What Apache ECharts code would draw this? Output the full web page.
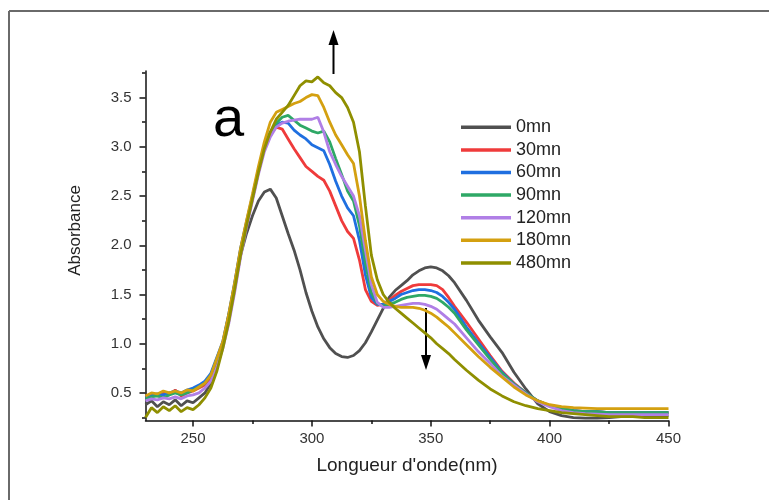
<!DOCTYPE html>
<html><head><meta charset="utf-8">
<script src="https://cdn.jsdelivr.net/npm/echarts@6/dist/echarts.min.js"></script>
<style>html,body{margin:0;padding:0;background:#fff;}#c{width:769px;height:500px;}</style>
</head><body><div id="c"></div>
<script>
const wavelengths = [230,232.5,235,237.5,240,242.5,245,247.5,250,252.5,
255,257.5,260,262.5,265,267.5,270,272.5,275,277.5,
280,282.5,285,287.5,290,292.5,295,297.5,300,302.5,
305,307.5,310,312.5,315,317.5,320,322.5,325,327.5,
330,332.5,335,337.5,340,342.5,345,347.5,350,352.5,
355,357.5,360,365,370,375,380,385,390,395,
400,405,410,415,420,425,430,435,440,445,450];
const seriesNames = ['0mn','30mn','60mn','90mn','120mn','180mn','480mn'];
const abs0 = [0.38,0.42,0.36,0.41,0.38,0.43,0.37,0.42,0.40,0.45,
0.50,0.60,0.80,1.00,1.28,1.58,1.90,2.12,2.30,2.45,
2.54,2.57,2.48,2.30,2.12,1.95,1.75,1.52,1.33,1.17,
1.05,0.96,0.90,0.87,0.86,0.88,0.93,1.01,1.12,1.24,
1.36,1.47,1.54,1.59,1.64,1.70,1.74,1.77,1.78,1.77,
1.74,1.69,1.62,1.44,1.24,1.07,0.91,0.71,0.54,0.39,
0.31,0.27,0.25,0.245,0.245,0.25,0.26,0.27,0.27,0.27,0.27];
const abs30 = [0.46,0.48,0.47,0.50,0.48,0.53,0.47,0.50,0.52,0.55,
0.58,0.66,0.84,1.00,1.28,1.60,1.95,2.22,2.48,2.75,
2.98,3.13,3.20,3.18,3.08,2.98,2.89,2.80,2.75,2.70,
2.66,2.55,2.40,2.25,2.14,2.07,1.85,1.55,1.43,1.39,
1.40,1.44,1.49,1.53,1.56,1.59,1.60,1.60,1.60,1.59,
1.55,1.47,1.38,1.22,1.05,0.88,0.72,0.60,0.50,0.42,
0.37,0.34,0.32,0.31,0.31,0.30,0.30,0.30,0.30,0.30,0.30];
const abs60 = [0.45,0.47,0.49,0.48,0.50,0.52,0.50,0.53,0.55,0.58,
0.62,0.70,0.86,1.02,1.30,1.62,1.97,2.24,2.50,2.77,
3.00,3.15,3.22,3.25,3.24,3.17,3.12,3.08,3.02,2.99,
2.96,2.82,2.65,2.50,2.38,2.30,2.05,1.70,1.47,1.40,
1.40,1.43,1.46,1.50,1.52,1.54,1.55,1.55,1.54,1.52,
1.48,1.42,1.35,1.17,1.01,0.86,0.71,0.59,0.50,0.42,
0.37,0.34,0.32,0.31,0.31,0.30,0.30,0.30,0.30,0.30,0.30];
const abs90 = [0.44,0.46,0.47,0.45,0.48,0.50,0.48,0.50,0.53,0.56,
0.60,0.68,0.84,1.00,1.28,1.60,1.95,2.22,2.48,2.75,
2.98,3.14,3.24,3.30,3.32,3.27,3.22,3.19,3.16,3.14,
3.16,3.05,2.88,2.72,2.55,2.45,2.20,1.82,1.52,1.41,
1.38,1.40,1.42,1.45,1.47,1.48,1.49,1.49,1.48,1.46,
1.42,1.37,1.31,1.14,0.99,0.84,0.70,0.59,0.50,0.42,
0.37,0.34,0.32,0.31,0.31,0.30,0.30,0.30,0.30,0.30,0.30];
const abs120 = [0.42,0.44,0.43,0.45,0.44,0.46,0.44,0.47,0.48,0.50,
0.55,0.62,0.76,0.95,1.20,1.52,1.88,2.18,2.45,2.72,
2.95,3.10,3.20,3.24,3.26,3.27,3.28,3.28,3.28,3.30,
3.15,2.95,2.82,2.70,2.60,2.50,2.30,1.95,1.60,1.42,
1.37,1.37,1.38,1.39,1.40,1.41,1.41,1.40,1.38,1.35,
1.30,1.25,1.20,1.06,0.92,0.80,0.67,0.58,0.49,0.41,
0.36,0.32,0.30,0.29,0.285,0.28,0.28,0.28,0.28,0.28,0.28];
const abs180 = [0.47,0.50,0.49,0.52,0.50,0.52,0.50,0.53,0.52,0.56,
0.60,0.68,0.85,1.02,1.30,1.62,1.97,2.25,2.52,2.80,
3.05,3.25,3.35,3.38,3.41,3.44,3.46,3.50,3.53,3.52,
3.40,3.25,3.12,3.02,2.92,2.83,2.50,2.05,1.68,1.50,
1.43,1.40,1.38,1.37,1.37,1.37,1.36,1.34,1.31,1.27,
1.22,1.17,1.11,0.99,0.87,0.76,0.66,0.56,0.48,0.42,
0.38,0.36,0.35,0.345,0.34,0.34,0.34,0.34,0.34,0.34,0.34];
const abs480 = [0.25,0.35,0.30,0.36,0.32,0.37,0.31,0.35,0.33,0.38,
0.45,0.55,0.72,0.95,1.22,1.55,1.90,2.20,2.47,2.74,
2.98,3.15,3.28,3.35,3.42,3.52,3.62,3.67,3.66,3.71,
3.65,3.62,3.55,3.50,3.40,3.25,2.95,2.40,1.90,1.65,
1.50,1.42,1.36,1.31,1.26,1.21,1.16,1.11,1.06,1.00,
0.95,0.90,0.84,0.73,0.63,0.54,0.47,0.41,0.37,0.34,
0.32,0.30,0.29,0.28,0.27,0.26,0.26,0.26,0.25,0.25,0.25];
const xMajorTicks = [250,300,350,400,450];
const xMinorTicks = [275,325,375,425];
const yMajorTicks = [0.5,1.0,1.5,2.0,2.5,3.0,3.5];
const yMinorTicks = [0.25,0.75,1.25,1.75,2.25,2.75,3.25,3.75];

const allValues = [abs0,abs30,abs60,abs90,abs120,abs180,abs480];
const colors = ['#505050','#ef3b3b','#1f6fe0','#2ea866','#b07fe6','#d4a010','#8f8f00'];
const FONT = "'Liberation Sans', Arial, sans-serif";
const XMIN = 230, XMAX = 450, YMIN = 0.22, YMAX = 3.77;

const chart = echarts.init(document.getElementById('c'), null, {renderer:'canvas'});
const option = {
  animation:false,
  backgroundColor:'#fff',
  grid:{left:145.5, right:100.5, top:71, bottom:79.5, containLabel:false},
  legend:{
    orient:'vertical', left:461, top:116, padding:0,
    icon:'rect', itemWidth:50, itemHeight:3.5, itemGap:0,
    textStyle:{fontFamily:FONT, fontSize:18, color:'#222', lineHeight:22.6},
    data:seriesNames
  },
  xAxis:[{
    type:'value', min:XMIN, max:XMAX, position:'bottom',
    name:"Longueur d'onde(nm)", nameLocation:'middle', nameGap:36,
    nameTextStyle:{fontFamily:FONT, fontSize:19, color:'#222'},
    axisLine:{show:true, lineStyle:{color:'#111', width:1.5}},
    axisTick:{show:true, inside:false, length:6, customValues:xMajorTicks, lineStyle:{color:'#111', width:1.5}},
    axisLabel:{show:true, margin:11, customValues:xMajorTicks, fontFamily:FONT, fontSize:15, color:'#333'},
    splitLine:{show:false}
  },{
    type:'value', min:XMIN, max:XMAX, position:'bottom', gridIndex:0,
    axisLine:{show:false},
    axisTick:{show:true, inside:false, length:3.5, customValues:xMinorTicks, lineStyle:{color:'#111', width:1.5}},
    axisLabel:{show:false}, splitLine:{show:false}
  }],
  yAxis:[{
    type:'value', min:YMIN, max:YMAX, position:'left',
    axisLine:{show:true, lineStyle:{color:'#111', width:1.5}},
    axisTick:{show:true, inside:false, length:6, customValues:yMajorTicks, lineStyle:{color:'#111', width:1.5}},
    axisLabel:{show:true, margin:14, customValues:yMajorTicks, fontFamily:FONT, fontSize:15, color:'#333',
      formatter:function(v){return Number(v).toFixed(1);}},
    splitLine:{show:false}
  },{
    type:'value', min:YMIN, max:YMAX, position:'left', gridIndex:0, offset:0,
    axisLine:{show:false},
    axisTick:{show:true, inside:false, length:3.5, customValues:yMinorTicks, lineStyle:{color:'#111', width:1.5}},
    axisLabel:{show:false}, splitLine:{show:false}
  }],
  series: seriesNames.map(function(name, k){
    return {
      name:name, type:'line', xAxisIndex:0, yAxisIndex:0,
      showSymbol:false, symbol:'none', smooth:false,
      color:colors[k],
      lineStyle:{color:colors[k], width:2.8},
      data: wavelengths.map(function(w,i){return [w, allValues[k][i]];})
    };
  }),
  graphic:[
    {type:'line', shape:{x1:9, y1:11, x2:769, y2:11}, style:{stroke:'#6a6a6a', lineWidth:2}},
    {type:'line', shape:{x1:9, y1:11, x2:9, y2:500}, style:{stroke:'#6a6a6a', lineWidth:2}},
    {type:'text', x:75, y:230.5, rotation:Math.PI/2,
      style:{text:'Absorbance', x:0, y:0, font:"17px 'Liberation Sans', Arial, sans-serif", fill:'#222', align:'center', verticalAlign:'middle'}},
    {type:'text', style:{text:'a', x:213, y:121, font:"56px 'Liberation Sans', Arial, sans-serif", fill:'#000', verticalAlign:'middle', align:'left'}},
    {type:'line', shape:{x1:333.5, y1:74, x2:333.5, y2:42}, style:{stroke:'#000', lineWidth:2}},
    {type:'polygon', shape:{points:[[333.5,30],[328.5,45],[338.5,45]]}, style:{fill:'#000'}},
    {type:'line', shape:{x1:426, y1:308, x2:426, y2:358}, style:{stroke:'#000', lineWidth:2}},
    {type:'polygon', shape:{points:[[426,370],[421,355],[431,355]]}, style:{fill:'#000'}}
  ]
};
chart.setOption(option);
</script>
</body></html>
